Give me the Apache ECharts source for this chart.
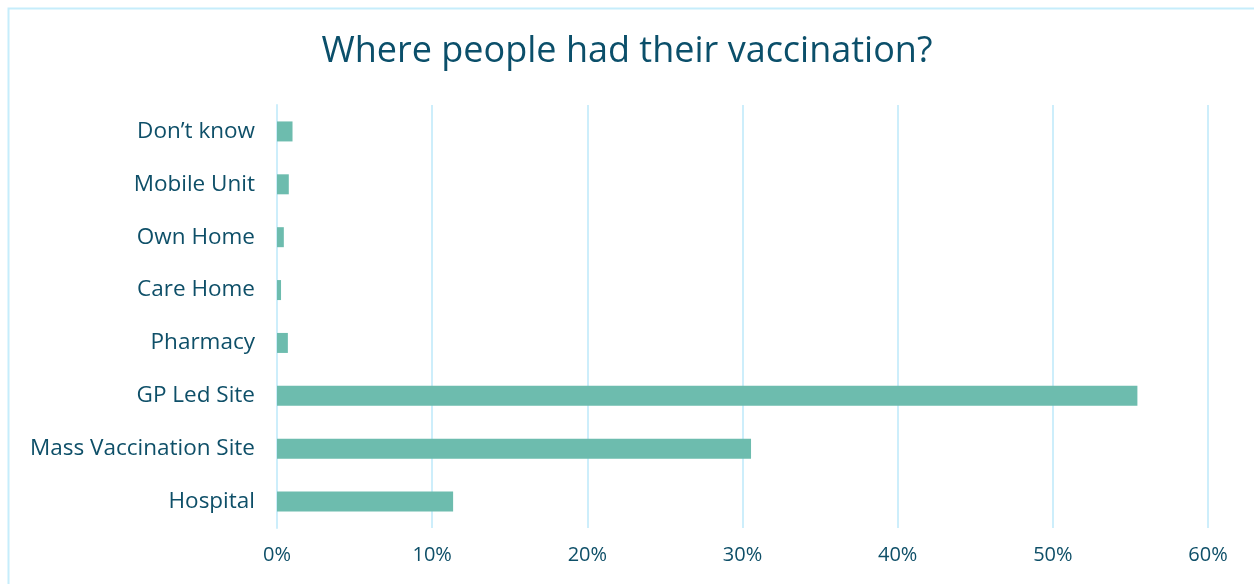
<!DOCTYPE html>
<html>
<head>
<meta charset="utf-8">
<script src="https://cdn.jsdelivr.net/npm/echarts@6/dist/echarts.min.js"></script>
<style>
  html, body { margin: 0; padding: 0; background: #ffffff; }
  #chart { width: 1254px; height: 584px; }
</style>
</head>
<body>
<div id="chart"></div>
<script>
// Vaccination locations, bottom to top
const categories = ['Hospital', 'Mass Vaccination Site', 'GP Led Site', 'Pharmacy', 'Care Home', 'Own Home', 'Mobile Unit', 'Don\u2019t know'];
const shares = [11.35, 30.55, 55.45, 0.7, 0.26, 0.44, 0.76, 1.0];
const tickValues = [0, 10, 20, 30, 40, 50, 60];

const textColor = '#0e4f68';
const font = '"Open Sans", sans-serif';

const chart = echarts.init(document.getElementById('chart'));
chart.setOption({
  animation: false,
  backgroundColor: '#ffffff',
  title: {
    text: 'Where people had their vaccination?',
    left: 'center',
    top: 29,
    textStyle: { color: '#0b4f6a', fontSize: 36, fontWeight: 'normal', fontFamily: font }
  },
  graphic: [{
    type: 'rect',
    shape: { x: 8.5, y: 8.5, width: 1300, height: 600 },
    style: { fill: 'none', stroke: '#c6edfb', lineWidth: 2 },
    silent: true
  }],
  grid: { left: 277, right: 46, top: 105, bottom: 56, containLabel: false },
  xAxis: {
    type: 'value',
    min: tickValues[0],
    max: tickValues[tickValues.length - 1],
    interval: 10,
    axisLine: { show: false },
    axisTick: { show: false },
    splitLine: { lineStyle: { color: '#cdeefb', width: 2 } },
    axisLabel: {
      color: textColor, fontSize: 20, fontFamily: font, margin: 17,
      formatter: v => v + '%'
    }
  },
  yAxis: {
    type: 'category',
    data: categories,
    axisLine: { show: true, lineStyle: { color: '#cdeefb', width: 2 } },
    axisTick: { show: false },
    splitLine: { show: false },
    axisLabel: { color: textColor, fontSize: 22.5, fontFamily: font, margin: 22 }
  },
  series: [{
    type: 'bar',
    data: shares,
    barWidth: 20,
    itemStyle: { color: '#6dbcae' }
  }]
});
</script>
</body>
</html>
